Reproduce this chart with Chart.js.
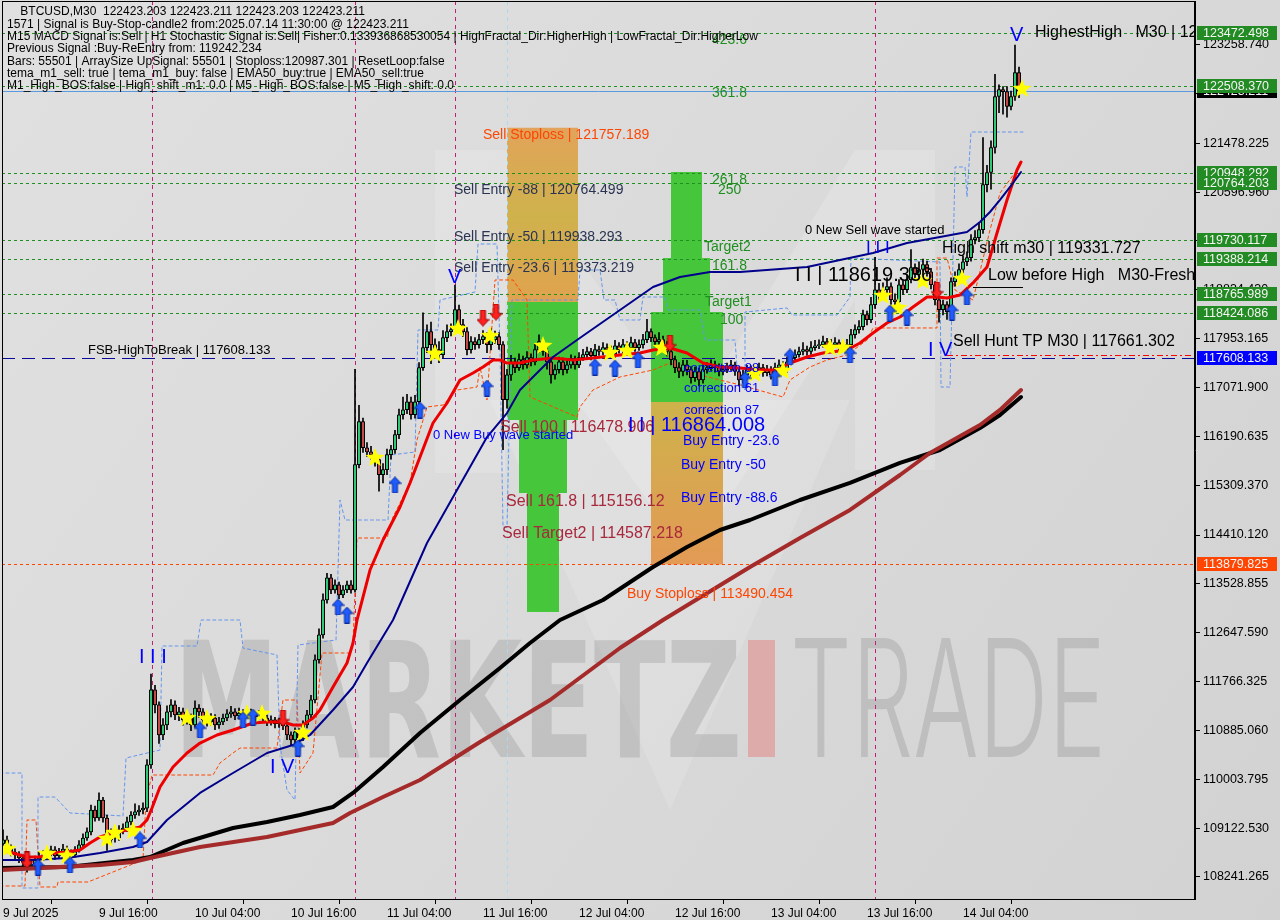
<!DOCTYPE html>
<html>
<head>
<meta charset="utf-8">
<title>BTCUSD M30</title>
<script src="https://cdn.jsdelivr.net/npm/chart.js@4.4.1/dist/chart.umd.min.js"></script>
<style>
  html, body { margin: 0; padding: 0; background: #d7d7d7; overflow: hidden; }
  canvas { display: block; }
</style>
</head>
<body>
<canvas id="chart" width="1280" height="920"></canvas>
<script>
// BTCUSD M30, one entry per bar. Bar 0 = 9 Jul 04:00, 30 minutes per bar.
const closes = [
  108910, 108765, 108690, 108640, 108585, 108510, 108440, 108475, 108550, 108585,
  108640, 108675, 108730, 108620, 108690, 108745, 108690, 108640, 108730, 108820,
  108945, 109055, 109450, 109305, 109630, 109305, 108910, 109035, 108945, 109090,
  109125, 109235, 109360, 109415, 109450, 109485, 110265, 111617, 111346, 110805,
  110985, 111220, 111345, 111165, 111220, 111075, 111110, 110985, 111290, 111220,
  111075, 111040, 111110, 110985, 111040, 111110, 111185, 111220, 111145, 111200,
  111165, 111220, 111165, 111130, 111185, 111110, 111040, 111075, 111005, 111040,
  110970, 110805, 110715, 110860, 110750, 110985, 111165, 111435, 112160, 112610,
  113240, 113640, 113420, 113510, 113330, 113420, 113510, 113420, 115680, 116455,
  115985, 115910, 115860, 115770, 115500, 115590, 115860, 115950, 116220, 116580,
  116670, 116815, 116580, 116815, 117430, 117790, 118080, 117845, 117755, 117665,
  117970, 118080, 118115, 118475, 118205, 118080, 117755, 117900, 117845, 117935,
  117990, 117845, 117935, 117990, 117845, 116850, 117300, 117535, 117430, 117575,
  117480, 117610, 117535, 117755, 117900, 117720, 117535, 117300, 117395, 117535,
  117395, 117480, 117575, 117480, 117610, 117665, 117720, 117645, 117755, 117720,
  117790, 117755, 117680, 117825, 117755, 117845, 117790, 117880, 117790, 117845,
  117935, 118080, 117970, 117900, 117935, 117845, 117720, 117575, 117430, 117360,
  117480, 117395, 117250, 117360, 117210, 117395, 117430, 117480, 117430, 117360,
  117395, 117430, 117480, 117360, 117210, 117300, 117395, 117340, 117360, 117430,
  117340, 117395, 117300, 117430, 117480, 117395, 117535, 117610, 117665, 117720,
  117755, 117720, 117790, 117825, 117845, 117900, 117825, 117845, 117880, 117790,
  117825, 117845, 118025, 118115, 118170, 118385, 118295, 118565, 118835, 118745,
  118835, 118890, 118655, 118620, 118925, 118835, 119015, 119235, 119110, 119200,
  119290, 119160, 118925, 118655, 118475, 118565, 118440, 118980, 119055, 119200,
  119340, 119415, 119740, 119775, 119920, 120730, 120950, 121400, 122320, 122445,
  122410, 122140, 122320, 122753, 122423.211
];
const highs = [
  109090, 108980, 108820, 108750, 108700, 108640, 108560, 108560, 108620, 108700,
  108720, 108760, 108800, 108790, 108760, 108830, 108800, 108730, 108790, 108900,
  109020, 109130, 109540, 109520, 109760, 109680, 109360, 109110, 109090, 109170,
  109200, 109320, 109420, 109560, 109530, 109580, 110360, 111900, 111700, 111400,
  111100, 111330, 111440, 111420, 111300, 111290, 111200, 111180, 111420, 111350,
  111280, 111140, 111190, 111170, 111120, 111180, 111260, 111320, 111280, 111290,
  111260, 111300, 111270, 111220, 111250, 111230, 111160, 111150, 111120, 111110,
  111200, 111020, 110860, 110930, 110920, 111060, 111250, 111520, 112250, 112720,
  113350, 113720, 113700, 113600, 113560, 113500, 113580, 113590, 117400, 116750,
  116520, 116080, 116010, 115940, 115840, 115700, 115960, 116030, 116300, 116680,
  116900, 116950, 116900, 116930, 117520, 118420, 118200, 118250, 117950, 117900,
  118100, 118200, 118220, 118920, 118560, 118300, 118150, 117990, 117970, 118030,
  118100, 118060, 118130, 118090, 118060, 117900, 117400, 117650, 117600, 117680,
  117640, 117720, 117680, 117850, 118020, 117960, 117780, 117590, 117480, 117620,
  117600, 117560, 117660, 117640, 117700, 117760, 117800, 117780, 117850, 117820,
  117880, 117860, 117820, 117920, 117880, 117940, 117900, 117980, 117940, 117930,
  118030, 118300, 118130, 118020, 118060, 118000, 117900, 117780, 117640, 117520,
  117560, 117560, 117450, 117440, 117420, 117480, 117520, 117570, 117550, 117500,
  117470, 117510, 117560, 117530, 117420, 117380, 117470, 117460, 117440, 117510,
  117490, 117470, 117450, 117510, 117570, 117540, 117620, 117690, 117750, 117800,
  117880, 117820, 117900, 117920, 117930, 118000, 117960, 117940, 117970, 117930,
  117910, 117940, 118120, 118200, 118280, 118470, 118450, 118700, 119420, 118950,
  118960, 119050, 118960, 118760, 119020, 119000, 119100, 119560, 119300, 119340,
  119390, 119350, 119220, 118980, 118720, 118650, 118620, 119050, 119160, 119300,
  119440, 119520, 119830, 119900, 120050, 121580, 121080, 121520, 122720, 122530,
  122500, 122500, 122420, 123250, 122850
];
const lows = [
  108700, 108700, 108620, 108560, 108500, 108420, 108330, 108380, 108420, 108500,
  108540, 108580, 108620, 108560, 108580, 108640, 108620, 108560, 108600, 108690,
  108780, 108900, 109000, 109250, 109260, 109230, 108720, 108840, 108870, 108900,
  109020, 109060, 109180, 109300, 109350, 109380, 109420, 110200, 111200, 110650,
  110720, 110900, 111130, 111080, 111060, 110980, 111000, 110880, 110940, 111120,
  111000, 110960, 110980, 110900, 110920, 110990, 111060, 111120, 111080, 111090,
  111100, 111110, 111100, 111060, 111080, 111050, 110970, 110980, 110930, 110940,
  110900, 110720, 110620, 110650, 110640, 110700, 110930, 111100, 111380, 112100,
  112550, 113180, 113350, 113360, 113260, 113280, 113370, 113360, 113380, 115620,
  115900, 115830, 115780, 115650, 115200, 115350, 115500, 115780, 115880, 116150,
  116500, 116600, 116500, 116520, 116750, 117380, 117700, 117500, 117600, 117520,
  117600, 117900, 118000, 118050, 118120, 117990, 117660, 117690, 117760, 117780,
  117860, 117700, 117750, 117860, 117760, 115950, 116700, 117200, 117340, 117380,
  117400, 117420, 117460, 117480, 117700, 117650, 117400, 117150, 117220, 117330,
  117300, 117330, 117420, 117400, 117430, 117560, 117610, 117570, 117590, 117650,
  117660, 117680, 117600, 117620, 117690, 117700, 117720, 117730, 117720, 117740,
  117780, 117880, 117900, 117820, 117840, 117770, 117640, 117480, 117340, 117250,
  117280, 117300, 117150, 117180, 117100, 117150, 117330, 117380, 117350, 117280,
  117300, 117340, 117380, 117290, 117100, 117150, 117240, 117270, 117280, 117300,
  117270, 117280, 117220, 117250, 117380, 117320, 117350, 117480, 117560, 117620,
  117660, 117650, 117670, 117740, 117770, 117800, 117760, 117770, 117790, 117720,
  117730, 117760, 117790, 117960, 118050, 118110, 118200, 118240, 118500, 118650,
  118680, 118760, 118570, 118520, 118560, 118750, 118780, 118960, 119020, 119040,
  119130, 119080, 118850, 118560, 118250, 118380, 118300, 118380, 118900, 118990,
  119140, 119270, 119350, 119660, 119700, 119850, 120600, 120650, 121300, 122030,
  122000, 121950, 122080, 122250, 122300
];
const firstOpen = 108840;

const dateTickBars = [0, 24, 48, 72, 96, 120, 144, 168, 192, 216, 240];
const dateLabels = ['9 Jul 2025', '9 Jul 16:00', '10 Jul 04:00', '10 Jul 16:00', '11 Jul 04:00',
  '11 Jul 16:00', '12 Jul 04:00', '12 Jul 16:00', '13 Jul 04:00', '13 Jul 16:00', '14 Jul 04:00'];
const priceTicks = [123258.740, 122377.475, 121478.225, 120596.960, 119715.695, 118834.430,
  117953.165, 117071.900, 116190.635, 115309.370, 114410.120, 113528.855, 112647.590,
  111766.325, 110885.060, 110003.795, 109122.530, 108241.265];

// moving averages as [bar, price]
const redEma = [[-0.75,108728],[2.5,108674],[6,108602],[9.25,108602],[12.5,108674],[16,108692],[19.25,108728],
  [21.75,108855],[24.25,108963],[27.5,109035],[31,109089],[34.25,109143],[36,109270],[37.25,109486],[39.25,109865],
  [42.5,110226],[46,110478],[49.25,110658],[53.5,110803],[57.5,110893],[62.5,111019],[66,111037],[70,111037],
  [72.5,110983],[75,110983],[77.5,111109],[79.25,111254],[82.5,111669],[86,112102],[87.5,112462],[88.5,112877],
  [91.75,113779],[95,114320],[99.25,114916],[101.75,115349],[104.25,115818],[107.5,116431],[111,116792],
  [114.25,117207],[117.5,117333],[120,117441],[122.5,117568],[124.25,117568],[126,117513],[129.25,117513],
  [132.5,117568],[137.5,117604],[142.5,117568],[147.5,117604],[154.25,117658],[159.25,117694],[162.5,117748],
  [166.75,117784],[171,117694],[175,117513],[179.25,117441],[184.25,117423],[189.25,117387],[193.5,117387],
  [196.75,117513],[201,117622],[205,117694],[211,117748],[214.25,117874],[217.5,118054],[221,118235],
  [224.25,118343],[227.5,118524],[231,118704],[233.5,118704],[236,118686],[239.25,118740],[242.5,118957],
  [246,119245],[248.5,119858],[251,120454],[253.5,120995],[254.5,121139]];
const navyEma = [[-0.75,108548],[7.5,108548],[16,108584],[24.25,108674],[32.5,108783],[36,108873],[41,109270],
  [49.25,109757],[57.5,110117],[66,110478],[72.5,110622],[76.75,110803],[82.5,111254],[87.5,111669],[91,112102],
  [97.5,112877],[106,114266],[113.5,115223],[121,116178],[126,116611],[129.25,117026],[137.5,117622],
  [143.5,117928],[146,118054],[154.25,118469],[162.5,118884],[169.25,119065],[176.75,119155],[184.25,119155],
  [201,119245],[209.25,119371],[217.5,119498],[226,119678],[234.25,119786],[241,119877],[244.25,120057],
  [246.75,120237],[249.25,120454],[252.5,120760],[254.5,120959]];
const blackEma = [[-0.75,108403],[16,108421],[32.5,108548],[36.75,108602],[45,108855],[57.5,109125],[66,109233],
  [74.25,109360],[82.5,109504],[87.5,109757],[95,110226],[104.25,110838],[114.25,111434],[124.25,112012],
  [131.75,112462],[139.25,112877],[150,113238],[162.5,113834],[171,114194],[179.25,114501],[186.75,114681],
  [199.25,115042],[211.75,115349],[224.25,115710],[234.25,115944],[244.25,116341],[249.25,116575],[254.5,116900]];
const brownEma = [[-0.75,108368],[24.25,108458],[32.5,108512],[36.75,108584],[49.25,108783],[66,108963],
  [74.25,109089],[82.5,109215],[86.75,109396],[95,109684],[104.25,109991],[119.25,110676],[136.75,111434],
  [154.25,112372],[165,112877],[186.75,113834],[199.25,114356],[211.75,114862],[224.25,115493],[231.75,115890],
  [244.25,116395],[249.25,116666],[254.5,117026]];

// dashed channel lines as [bar, price]
const upperChannel = [[-0.75,110117],[4.75,110117],[4.75,108043],[8.75,108043],[8.75,109684],[13,109684],
  [16.75,109396],[30,109342],[30.75,110388],[39.25,110532],[39.75,112408],[48.5,112408],[49.5,112877],
  [59.25,112877],[60,112372],[68.5,112246],[69.25,110622],[71,109811],[73,109630],[73.75,112426],[83.25,112516],
  [84.25,115042],[85.5,114681],[96.25,114681],[97,115854],[103,115908],[103.75,118109],[108.75,118109],
  [109.25,118650],[118,118794],[118.75,119660],[123.5,119660],[124.25,117748],[125,114555],[126,114555],
  [127.25,118650],[143.75,118650],[144.25,119191],[149.25,119191],[150.25,118650],[153,118650],[154.25,118289],
  [159.25,118289],[160,118704],[165.5,118704],[166.25,118469],[174.25,118469],[175.5,117928],[183,117928],
  [183.75,117207],[185.5,117026],[185.5,118433],[196,118506],[197.25,118379],[208.5,118379],[211.75,118704],
  [212,119407],[234.25,119335],[234.5,117080],[236.75,117080],[237.5,119371],[238,121049],[240.5,121049],
  [241,120508],[242,121680],[255,121680]];
const lowerChannel = [[-0.75,108079],[5.5,108079],[6,109270],[8.25,109270],[9.25,108061],[13.5,108061],
  [13.75,108151],[21.25,108151],[35,108548],[35.75,109630],[37.25,110081],[52.5,110081],[54.25,110298],
  [57.5,110478],[59.25,110568],[68.5,110568],[70,111434],[73.5,111434],[74.25,110117],[77.5,110478],
  [79.75,112282],[86.75,112282],[87.5,112462],[88.5,114356],[96,114356],[97.5,114735],[101.75,115349],
  [103.5,116124],[106,116720],[110,116756],[113.5,117026],[118.5,117080],[119.25,117441],[121,116846],
  [123,119011],[127.5,119011],[129.25,118830],[131,118650],[131.75,116900],[143.5,116539],[144.25,116720],
  [147.5,117026],[154.25,117261],[162.5,117387],[166.75,117513],[174.25,117297],[184.25,117117],[195,116900],
  [196.75,117207],[201.75,117441],[206,117568],[211,117658],[216,117928],[217.5,118145],[233.5,118145],
  [233.5,119407],[236,119407],[238,118830],[242.5,118650],[246.75,119913],[249.25,120580],[253.5,120995]];

// signal markers
const starBars = [1, 11, 16, 26, 28, 32.5, 46, 51, 61, 64.75, 75, 93, 108, 113.75, 121.75, 135, 151.75, 156,
  164.75, 188, 195, 206.75, 210, 220, 223.75, 230, 239.75, 254.75];
const starPrices = [108764, 108674, 108638, 108945, 109053, 109089, 111127, 111109, 111199, 111199, 110857,
  115818, 117694, 118145, 118018, 117838, 117712, 117748, 117802, 117333, 117387, 117802, 117802, 118740,
  118524, 119011, 119047, 122474];
const buyArrowBars = [8.75, 16.75, 34.25, 49.25, 60, 62.5, 73.75, 83.75, 86, 98, 104.25, 121, 148, 153, 158.75,
  185.5, 193, 196.75, 211.75, 221.75, 226, 237.25, 241];
const buyArrowPrices = [108421, 108458, 108909, 110893, 111074, 111127, 110568, 113112, 112967, 115313, 116665,
  117062, 117441, 117423, 117568, 117207, 117243, 117622, 117658, 118415, 118343, 118433, 118704];
const sellArrowBars = [6, 70, 120, 123.25, 166.75, 233.5];
const sellArrowPrices = [108548, 111109, 118325, 118433, 117874, 118830];

// horizontal levels
const greenLevels = [123472.498, 122508.370, 120948.292, 120764.203, 119730.117, 119388.214, 118765.989, 118424.086];
const bidPrice = 122423.211;
const fsbLevel = 117608.133;
const buyStopLevel = 113879.825;
const huntLevel = 117661.302;
const huntStartBar = 236;
const lowBeforeHigh = 118884;
const lowBeforeHighBars = [242.5, 255];
const sessionBars = [37.25, 88, 113, 218];
const signalBar = 126;

// price label boxes on the axis
const axisBoxes = [[122423.211, 'black'], [123472.498, 'green'], [122508.370, 'green'], [120948.292, 'green'],
  [120764.203, 'green'], [119730.117, 'green'], [119388.214, 'green'], [118765.989, 'green'],
  [118424.086, 'green'], [117608.133, 'blue'], [113879.825, 'orange']];

// zones: [startBar, endBar, top, bottom, kind]
const zones = [
  [126, 143.75, 121757.189, 118614, 'tan'],
  [126, 143.75, 118614, 116485, 'green'],
  [129, 141, 116485, 115168, 'green'],
  [131, 139, 115168, 113022, 'green'],
  [167, 174.75, 120959, 119407, 'green'],
  [165, 176.75, 119407, 118433, 'green'],
  [162, 180, 118433, 116810, 'green'],
  [162, 180, 116810, 113879.825, 'tanBuy']
];

// annotations: [text, bar, price, style]
const notes = [
  ['Sell Stoploss | 121757.189', 120, 121626, 'stop'],
  ['Sell Entry -88 | 120764.499', 112.75, 120634, 'entry'],
  ['Sell Entry -50 | 119938.293', 112.75, 119786, 'entry'],
  ['Sell Entry -23.6 | 119373.219', 112.75, 119227, 'entry'],
  ['FSB-HighToBreak | 117608.133', 21.25, 117748, 'small'],
  ['0 New Buy wave started', 107.5, 116215, 'wave'],
  ['Sell 100 | 116478.906', 124.25, 116341, 'target'],
  ['Sell 161.8 | 115156.12', 125.75, 115006, 'target'],
  ['Sell Target2 | 114587.218', 124.75, 114429, 'target'],
  ['Buy Stoploss | 113490.454', 156, 113347, 'stop'],
  ['I I | 116864.008', 156.25, 116395, 'roman'],
  ['correction 88', 170.25, 117423, 'wave'],
  ['correction 61', 170.25, 117063, 'wave'],
  ['correction 87', 170.25, 116665, 'wave'],
  ['Buy Entry -23.6', 170, 116106, 'buy'],
  ['Buy Entry -50', 169.5, 115674, 'buy'],
  ['Buy Entry -88.6', 169.5, 115078, 'buy'],
  ['423.6', 177.25, 123340, 'fib'],
  ['361.8', 177.25, 122384, 'fib'],
  ['261.8', 177.25, 120814, 'fib'],
  ['250', 178.75, 120634, 'fib'],
  ['Target2', 175.25, 119606, 'fib'],
  ['161.8', 177.25, 119263, 'fib'],
  ['Target1', 175.5, 118614, 'fib'],
  ['100', 179.25, 118289, 'fib'],
  ['0 New Sell wave started', 200.5, 119913, 'small'],
  ['I I I', 215.75, 119588, 'romanSmall'],
  ['I I | 118619.336', 198, 119101, 'romanBlack'],
  ['High shift m30 | 119331.727', 234.75, 119570, 'label'],
  ['Low before High   M30-Fresh', 246.25, 119083, 'label'],
  ['Sell Hunt TP M30 | 117661.302', 237.5, 117892, 'label'],
  ['I V', 231.25, 117748, 'roman'],
  ['V', 251.75, 123430, 'roman'],
  ['HighestHigh   M30 | 123472.498', 258, 123466, 'label'],
  ['V', 111.25, 119047, 'roman'],
  ['I I I', 34, 112210, 'roman'],
  ['I V', 66.75, 110208, 'roman']
];

const infoLines = [
  '    BTCUSD,M30  122423.203 122423.211 122423.203 122423.211',
  '1571 | Signal is Buy-Stop-candle2 from:2025.07.14 11:30:00 @ 122423.211',
  'M15 MACD Signal is:Sell | H1 Stochastic Signal is:Sell| Fisher:0.133936868530054 | HighFractal_Dir:HigherHigh | LowFractal_Dir:HigherLow',
  'Previous Signal :Buy-ReEntry from: 119242.234',
  'Bars: 55501 | ArraySize UpSignal: 55501 | Stoploss:120987.301 | ResetLoop:false',
  'tema_m1_sell: true | tema_m1_buy: false | EMA50_buy:true | EMA50_sell:true',
  'M1_High_BOS:false | High_shift_m1: 0.0 | M5_High_BOS:false | M5_High_shift: 0.0'
];

// ---------- styling ----------
const FONT = '"Liberation Sans", Arial, sans-serif';
Chart.defaults.font.family = FONT;
const noteStyles = {
  stop: ['#ff4500', 14], entry: ['#2a3452', 14], target: ['#a8283c', 16], small: ['#000000', 13],
  wave: ['#0000ff', 13], buy: ['#0000ff', 14], fib: ['#1f8f1f', 14], roman: ['#0000ff', 20],
  romanSmall: ['#0000ff', 17], romanBlack: ['#000000', 20], label: ['#000000', 16]
};
const boxColors = { green: '#238b23', blue: '#0000ff', orange: '#ff4500', black: '#000000' };

const opens = closes.map((c, i) => (i === 0 ? firstOpen : closes[i - 1]));
const bars = closes.map((c, i) => i);

function starImage(size) {
  const c = document.createElement('canvas');
  c.width = size; c.height = size;
  const g = c.getContext('2d');
  g.beginPath();
  for (let k = 0; k < 10; k++) {
    const r = k % 2 ? size * 0.21 : size * 0.5;
    const a = -Math.PI / 2 + k * Math.PI / 5;
    g.lineTo(size / 2 + r * Math.cos(a), size / 2 + 1 + r * Math.sin(a));
  }
  g.closePath();
  g.fillStyle = '#ffff00';
  g.fill();
  return c;
}
function arrowImage(fill, edge, down) {
  const c = document.createElement('canvas');
  c.width = 13; c.height = 17;
  const g = c.getContext('2d');
  if (down) { g.translate(0, 17); g.scale(1, -1); }
  g.beginPath();
  g.moveTo(6.5, 0.5); g.lineTo(12.5, 7); g.lineTo(9, 7); g.lineTo(9, 16.5);
  g.lineTo(4, 16.5); g.lineTo(4, 7); g.lineTo(0.5, 7); g.closePath();
  g.fillStyle = fill; g.fill();
  g.strokeStyle = edge; g.lineWidth = 1; g.stroke();
  return c;
}
const starImg = starImage(20);
const upImg = arrowImage('#1f5cff', '#0a2a9a', false);
const downImg = arrowImage('#ff2020', '#a00000', true);

const pts = (list) => list.map(([x, y]) => ({ x, y }));
const lineSet = (data, color, width, order, dash) => ({
  type: 'line', data: pts(data), borderColor: color, borderWidth: width, pointRadius: 0,
  tension: 0, order, borderDash: dash || [], borderCapStyle: 'round', borderJoinStyle: 'round'
});
const markerSet = (xs, ys, img) => ({
  type: 'line', data: xs.map((x, i) => ({ x, y: ys[i] })), showLine: false,
  pointStyle: img, pointRadius: 8, order: 0
});

const chartPlugin = {
  id: 'mt4',
  beforeDraw(chart) {
    const { ctx, width, height } = chart;
    ctx.save();
    const g = ctx.createLinearGradient(0, 0, width, height);
    g.addColorStop(0, '#e0e0e0');
    g.addColorStop(0.5, '#dadada');
    g.addColorStop(1, '#d2d2d2');
    ctx.fillStyle = g;
    ctx.fillRect(0, 0, width, height);
    // faint logo behind the chart
    ctx.fillStyle = 'rgba(255,255,255,0.16)';
    ctx.beginPath();
    ctx.moveTo(435, 150); ctx.lineTo(505, 150); ctx.lineTo(690, 420); ctx.lineTo(855, 150);
    ctx.lineTo(935, 150); ctx.lineTo(935, 470); ctx.lineTo(855, 470); ctx.lineTo(855, 300);
    ctx.lineTo(690, 560); ctx.lineTo(505, 300); ctx.lineTo(505, 473); ctx.lineTo(435, 473);
    ctx.closePath(); ctx.fill();
    ctx.fillStyle = 'rgba(255,255,255,0.14)';
    ctx.beginPath();
    ctx.moveTo(490, 400); ctx.lineTo(850, 400); ctx.lineTo(670, 810); ctx.closePath(); ctx.fill();
    // watermark
    ctx.textBaseline = 'alphabetic';
    ctx.fillStyle = 'rgba(140,140,140,0.3)';
    ctx.font = 'bold 160px "DejaVu Sans", sans-serif';
    ctx.fillText('MARKETZ', 174, 757, 568);
    ctx.fillStyle = 'rgba(230,110,110,0.42)';
    ctx.fillRect(748, 640, 27, 117);
    ctx.fillStyle = 'rgba(140,140,140,0.32)';
    ctx.font = '300 164px Inter, "Liberation Sans", sans-serif';
    ctx.fillText('TRADE', 790, 757, 316);
    ctx.restore();
  },
  beforeDatasetsDraw(chart) {
    const { ctx, chartArea: a, scales: { x, y } } = chart;
    ctx.save();
    ctx.beginPath(); ctx.rect(a.left, a.top, a.right - a.left, a.bottom - a.top); ctx.clip();
    // zones
    zones.forEach(([b0, b1, top, bottom, kind]) => {
      const x0 = x.getPixelForValue(b0), x1 = x.getPixelForValue(b1);
      const y0 = y.getPixelForValue(top), y1 = y.getPixelForValue(bottom);
      let fill = '#46c63a';
      if (kind === 'tan') {
        fill = ctx.createLinearGradient(0, y0, 0, y1);
        fill.addColorStop(0, '#e2a35a'); fill.addColorStop(0.5, '#cfb24c'); fill.addColorStop(1, '#e0a24f');
      } else if (kind === 'tanBuy') {
        fill = ctx.createLinearGradient(0, y0, 0, y1);
        fill.addColorStop(0, '#cdb24a'); fill.addColorStop(1, '#e39a55');
      }
      ctx.fillStyle = fill;
      ctx.fillRect(x0, y0, x1 - x0, y1 - y0);
    });
    // vertical session separators
    ctx.lineWidth = 1;
    ctx.setLineDash([4, 4]);
    sessionBars.forEach((b) => {
      const px = Math.round(x.getPixelForValue(b)) + 0.5;
      ctx.strokeStyle = '#c0207a';
      ctx.beginPath(); ctx.moveTo(px, a.top); ctx.lineTo(px, a.bottom); ctx.stroke();
    });
    const sx = Math.round(x.getPixelForValue(signalBar)) + 0.5;
    ctx.strokeStyle = '#a8dce8';
    ctx.beginPath(); ctx.moveTo(sx, a.top); ctx.lineTo(sx, a.bottom); ctx.stroke();
    // green levels
    ctx.setLineDash([3, 3]);
    ctx.strokeStyle = '#1f8f1f';
    greenLevels.forEach((v) => {
      const py = Math.round(y.getPixelForValue(v)) + 0.5;
      ctx.beginPath(); ctx.moveTo(a.left, py); ctx.lineTo(a.right, py); ctx.stroke();
    });
    // buy stoploss level
    ctx.strokeStyle = '#ff4500';
    let py = Math.round(y.getPixelForValue(buyStopLevel)) + 0.5;
    ctx.beginPath(); ctx.moveTo(a.left, py); ctx.lineTo(a.right, py); ctx.stroke();
    // FSB level
    ctx.setLineDash([13, 7]);
    ctx.strokeStyle = '#0a0a9a';
    py = Math.round(y.getPixelForValue(fsbLevel)) + 0.5;
    ctx.beginPath(); ctx.moveTo(a.left, py); ctx.lineTo(a.right, py); ctx.stroke();
    // sell hunt TP
    ctx.setLineDash([6, 3, 2, 3]);
    ctx.strokeStyle = '#ff0000';
    py = Math.round(y.getPixelForValue(huntLevel)) + 0.5;
    ctx.beginPath(); ctx.moveTo(x.getPixelForValue(huntStartBar), py); ctx.lineTo(a.right, py); ctx.stroke();
    // low before high
    ctx.setLineDash([]);
    ctx.strokeStyle = '#000000';
    py = Math.round(y.getPixelForValue(lowBeforeHigh)) + 0.5;
    ctx.beginPath(); ctx.moveTo(x.getPixelForValue(lowBeforeHighBars[0]), py);
    ctx.lineTo(x.getPixelForValue(lowBeforeHighBars[1]), py); ctx.stroke();
    ctx.restore();
    // bid line, reaches the axis
    ctx.save();
    ctx.strokeStyle = '#5a9be0';
    py = Math.round(y.getPixelForValue(bidPrice)) + 0.5;
    ctx.beginPath(); ctx.moveTo(a.left, py); ctx.lineTo(a.right, py); ctx.stroke();
    ctx.restore();
  },
  afterDatasetsDraw(chart) {
    const { ctx, chartArea: a, scales: { x, y } } = chart;
    ctx.save();
    ctx.beginPath(); ctx.rect(a.left, a.top, a.right - a.left, a.bottom - a.top); ctx.clip();
    ctx.textBaseline = 'middle';
    ctx.textAlign = 'left';
    notes.forEach(([text, bar, price, style]) => {
      const [color, size] = noteStyles[style];
      ctx.fillStyle = color;
      ctx.font = size + 'px ' + FONT;
      ctx.fillText(text, x.getPixelForValue(bar), y.getPixelForValue(price));
    });
    ctx.restore();
    // frame
    ctx.save();
    ctx.strokeStyle = '#000';
    ctx.lineWidth = 1;
    ctx.strokeRect(a.left + 0.5, a.top + 0.5, a.right - a.left - 1, a.bottom - a.top);
    ctx.restore();
  },
  afterDraw(chart) {
    const { ctx, chartArea: a, scales: { y } } = chart;
    ctx.save();
    ctx.font = '12.5px ' + FONT;
    ctx.textBaseline = 'middle';
    axisBoxes.forEach(([v, kind]) => {
      const py = Math.round(y.getPixelForValue(v));
      ctx.fillStyle = boxColors[kind];
      ctx.fillRect(a.right + 2, py - 7, 80, 14);
      ctx.fillStyle = '#f4f4f4';
      ctx.fillText(v.toFixed(3), a.right + 8, py + 0.5);
    });
    ctx.fillStyle = '#000';
    ctx.font = '12px ' + FONT;
    infoLines.forEach((line, i) => {
      ctx.fillText(line, 7, 12 + i * 12.3);
    });
    ctx.restore();
  }
};

new Chart(document.getElementById('chart'), {
  type: 'bar',
  data: {
    datasets: [
      {
        label: 'wick', data: bars.map((i) => ({ x: i, y: [lows[i], highs[i]] })),
        backgroundColor: '#000', barThickness: 1, grouped: false, order: 5
      },
      {
        label: 'body', data: bars.map((i) => ({ x: i, y: [opens[i], closes[i]] })),
        backgroundColor: bars.map((i) => (closes[i] >= opens[i] ? '#30c878' : '#c44a48')),
        borderColor: '#000', borderWidth: 1, borderSkipped: false, barThickness: 3.4, grouped: false, order: 4
      },
      lineSet(upperChannel, '#6495ed', 1, 6, [3, 3]),
      lineSet(lowerChannel, '#ff4500', 1, 6, [3, 3]),
      lineSet(brownEma, '#a52a2a', 4, 3),
      lineSet(blackEma, '#000000', 4, 3),
      lineSet(navyEma, '#00008b', 2, 2),
      lineSet(redEma, '#ee0000', 3, 2),
      markerSet(buyArrowBars, buyArrowPrices, upImg),
      markerSet(sellArrowBars, sellArrowPrices, downImg),
      markerSet(starBars, starPrices, starImg)
    ]
  },
  options: {
    responsive: false,
    animation: false,
    events: [],
    devicePixelRatio: 1,
    layout: { autoPadding: false, padding: { top: 1, left: 2, right: 0, bottom: 0 } },
    plugins: { legend: { display: false }, tooltip: { enabled: false } },
    scales: {
      x: {
        type: 'linear', min: -0.25, max: 298, offset: false,
        afterBuildTicks: (s) => { s.ticks = dateTickBars.map((v) => ({ value: v })); },
        afterFit: (s) => { s.height = 21; s.paddingLeft = 0; s.paddingRight = 0; },
        ticks: {
          callback: (v, i) => dateLabels[i], autoSkip: false, maxRotation: 0, minRotation: 0,
          align: 'start', padding: 2, color: '#000', font: { size: 12, family: FONT }
        },
        grid: { drawOnChartArea: false, tickLength: 5, color: '#000' },
        border: { color: '#000' }
      },
      y: {
        type: 'linear', position: 'right', min: 107844.4, max: 124043.4,
        afterBuildTicks: (s) => { s.ticks = priceTicks.map((v) => ({ value: v })); },
        afterFit: (s) => { s.width = 85; s.paddingTop = 0; s.paddingBottom = 0; },
        ticks: {
          callback: (v) => Number(v).toFixed(3), autoSkip: false, padding: 3, color: '#000',
          font: { size: 12.5, family: FONT }
        },
        grid: { drawOnChartArea: false, tickLength: 5, color: '#000' },
        border: { color: '#000' }
      }
    }
  },
  plugins: [chartPlugin]
});
</script>
</body>
</html>
